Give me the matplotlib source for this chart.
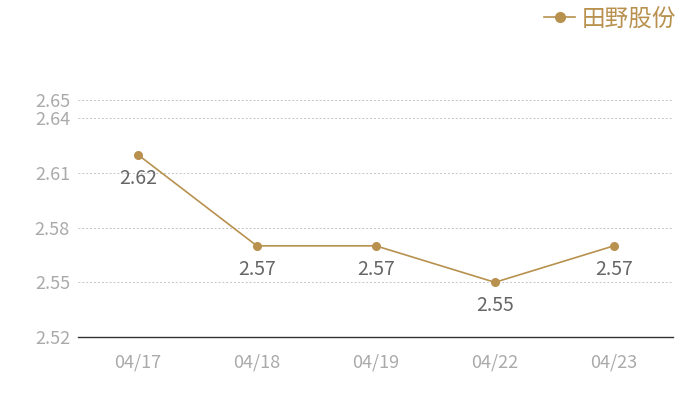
import matplotlib.pyplot as plt
from matplotlib.lines import Line2D

plt.rcParams['font.family'] = ['Noto Sans CJK SC', 'DejaVu Sans']

dates = ['04/17', '04/18', '04/19', '04/22', '04/23']
prices = [2.62, 2.57, 2.57, 2.55, 2.57]
series_name = '田野股份'
y_ticks = [2.52, 2.55, 2.58, 2.61, 2.64, 2.65]

gold = '#b8914f'

fig = plt.figure(figsize=(7, 4), dpi=100)
ax = fig.add_axes([0.112, 0.1575, 0.85, 0.5925])

x = list(range(len(dates)))
ax.plot(x, prices, color=gold, lw=1.2, marker='o', ms=5.5, zorder=3)

# value labels under each point
for xi, v in zip(x, prices):
    ax.annotate(f'{v:.2f}', (xi, v), xytext=(0, -17), textcoords='offset points',
                ha='center', va='center', fontsize=14, color='#666666')

ax.set_xlim(-0.5, len(dates) - 0.5)
ax.set_ylim(2.52, 2.65)
ax.set_xticks(x)
ax.set_xticklabels(dates)
ax.set_yticks(y_ticks)
ax.set_yticklabels([f'{t:.2f}' for t in y_ticks])

for t in y_ticks[1:]:
    ax.axhline(t, color='#c4c4c4', lw=0.7, ls=(0, (2, 2)), zorder=1)

for s in ['top', 'right', 'left']:
    ax.spines[s].set_visible(False)
ax.spines['bottom'].set_color('#333333')
ax.spines['bottom'].set_linewidth(1)

ax.tick_params(axis='both', length=0, colors='#aaaaaa', labelsize=13)
ax.tick_params(axis='x', pad=12)
ax.tick_params(axis='y', pad=6)

handle = Line2D([], [], color=gold, lw=1.2, marker='o', ms=7)
leg = fig.legend([handle], [series_name], loc='upper right', bbox_to_anchor=(0.997, 1.035),
                 frameon=False, fontsize=17, handlelength=1.3, handletextpad=0.3)
for txt in leg.get_texts():
    txt.set_color(gold)

fig.savefig('out.png', dpi=100)
